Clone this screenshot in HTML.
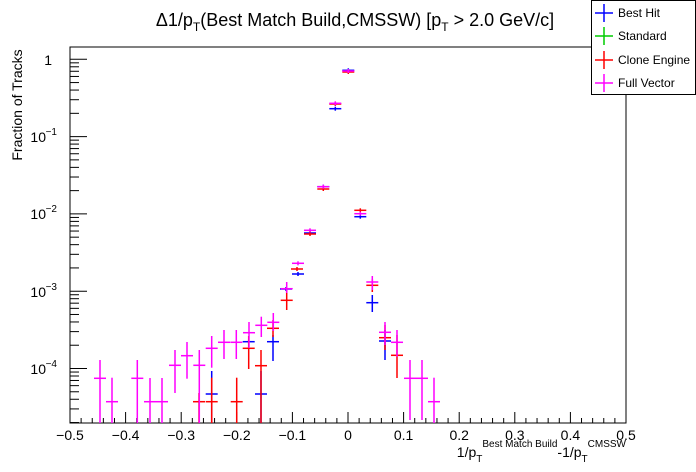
<!DOCTYPE html>
<html><head><meta charset="utf-8"><style>
html,body{margin:0;padding:0;background:#fff;}
svg{display:block;font-family:"Liberation Sans",sans-serif;}
</style></head><body>
<svg width="696" height="472" viewBox="0 0 696 472" xmlns="http://www.w3.org/2000/svg">
<rect width="696" height="472" fill="#fff"/>
<rect x="70" y="47" width="556" height="376" fill="none" stroke="#000" stroke-width="1"/>
<g id="ticks" stroke="#000" stroke-width="1"></g>
<g font-size="14" fill="#000" text-anchor="middle">
<text x="70" y="440">−0.5</text><text x="125.6" y="440">−0.4</text><text x="181.2" y="440">−0.3</text>
<text x="236.8" y="440">−0.2</text><text x="292.4" y="440">−0.1</text><text x="348" y="440">0</text>
<text x="403.6" y="440">0.1</text><text x="459.2" y="440">0.2</text><text x="514.8" y="440">0.3</text>
<text x="570.4" y="440">0.4</text><text x="626" y="440">0.5</text>
</g>
<g font-size="14" fill="#000" text-anchor="end">
<text x="52" y="65">1</text>
<text x="46" y="142">10</text><text x="57" y="135" font-size="10">−1</text>
<text x="46" y="219">10</text><text x="57" y="212" font-size="10">−2</text>
<text x="46" y="297">10</text><text x="57" y="290" font-size="10">−3</text>
<text x="46" y="374">10</text><text x="57" y="367" font-size="10">−4</text>
</g>
<text transform="translate(22,105) rotate(-90)" font-size="14" text-anchor="middle">Fraction of Tracks</text>
<text x="355" y="26" font-size="18" text-anchor="middle">Δ1/p<tspan font-size="12" dy="5">T</tspan><tspan dy="-5">(Best Match Build,CMSSW) [p</tspan><tspan font-size="12" dy="5">T</tspan><tspan dy="-5"> &gt; 2.0 GeV/c]</tspan></text>
<text x="626" y="457" font-size="14" text-anchor="end">1/p<tspan font-size="10" dy="5">T</tspan><tspan font-size="10" dy="-15">Best Match Build</tspan><tspan dy="10">-1/p</tspan><tspan font-size="10" dy="5">T</tspan><tspan font-size="10" dy="-15">CMSSW</tspan></text>
<g id="data" stroke-width="1.5"></g>
<rect x="591.5" y="0.5" width="104" height="94" fill="#fff" stroke="#000"/>
<g stroke-width="1.5">
<line x1="595" x2="613" y1="13" y2="13" stroke="#00f"/><line x1="604" x2="604" y1="4" y2="22" stroke="#00f"/>
<line x1="595" x2="613" y1="36" y2="36" stroke="#0c0"/><line x1="604" x2="604" y1="27" y2="45" stroke="#0c0"/>
<line x1="595" x2="613" y1="60" y2="60" stroke="#f00"/><line x1="604" x2="604" y1="51" y2="69" stroke="#f00"/>
<line x1="595" x2="613" y1="83" y2="83" stroke="#f0f"/><line x1="604" x2="604" y1="74" y2="92" stroke="#f0f"/>
</g>
<g font-size="12" fill="#000">
<text x="618" y="17">Best Hit</text><text x="618" y="40">Standard</text>
<text x="618" y="64">Clone Engine</text><text x="618" y="87">Full Vector</text>
</g>
</svg>
<script>
var NS="http://www.w3.org/2000/svg";
function L(g,x1,y1,x2,y2,c){var l=document.createElementNS(NS,"line");l.setAttribute("x1",x1);l.setAttribute("y1",y1);l.setAttribute("x2",x2);l.setAttribute("y2",y2);if(c)l.setAttribute("stroke",c);g.appendChild(l);}
var t=document.getElementById("ticks");
for(var i=0;i<=50;i++){var x=70+i*556/50;var len=(i%5==0)?11:5;L(t,x,423,x,423-len);}
var top0=59.3,dec=77.3;
for(var n=0;n>=-5;n--){for(var m=1;m<=9;m++){var y=top0-dec*(n+Math.log10(m));if(y<47||y>423)continue;L(t,70,y,70+(m==1?17:9),y);}}
var d=document.getElementById("data");
function P(c,x,y,e1,e2){L(d,x-6,y,x+6,y,c);L(d,x,e1===undefined?y-2:e1,x,e2===undefined?y+2:e2,c);}
var pk="#f0f",rd="#f00",bl="#00f";
P(bl,211.7,394,371,423);P(bl,248.7,341.7);P(bl,261,394,371,423);P(bl,273,341.7,335,361);
P(bl,286,289);P(bl,298,274);P(bl,310,233);P(bl,323.3,186.7);P(bl,335.3,108.7);P(bl,348.3,70.3);
P(bl,360.3,216.7);P(bl,372.3,302.7,295,312);P(bl,385,341,330,360);
P(rd,199,401.7,393,423);P(rd,211.7,401.7,377.7,423);P(rd,236.7,401.7,377.7,423);P(rd,248.7,348.3,336,369);
P(rd,261,365.7,350,423);P(rd,273,328.3,320,337);P(rd,286.7,300.3,290,310);P(rd,297,269);
P(rd,310,234);P(rd,323.3,189);P(rd,335.3,104);P(rd,348.3,72);P(rd,360.3,210.3);
P(rd,372.3,285.3,279,292);P(rd,385,337.7,325,350);P(rd,397,355.3,335,378);
P(pk,100,378.3,360,423);P(pk,112,401.7,377.7,423);P(pk,137.3,378.3,360,423);P(pk,150,401.7,378,423);
P(pk,162,401.7,378,423);P(pk,175,365.3,350,393);P(pk,187,355.7,342,378.7);P(pk,199.3,365.3,350,423);
P(pk,211.7,348.3,336,367.7);P(pk,224,342.3,330,359);P(pk,236.3,342.3,330,359);P(pk,249,332.7,322,348);
P(pk,261.3,325.3,316.7,337);P(pk,273.3,322.3,313,331);P(pk,286.7,288.7,282,293);P(pk,298,263.3);
P(pk,310,230.3);P(pk,323.3,186.7);P(pk,335.3,103.3);P(pk,348.3,71);P(pk,360.3,213.7);
P(pk,372.3,282,276,290);P(pk,385,332.3,322,345);P(pk,397,342.3,330,356.7);P(pk,410,378.3,360,420);
P(pk,422,378.3,360,420);P(pk,434,401.7,377.7,423);
</script>
</body></html>
